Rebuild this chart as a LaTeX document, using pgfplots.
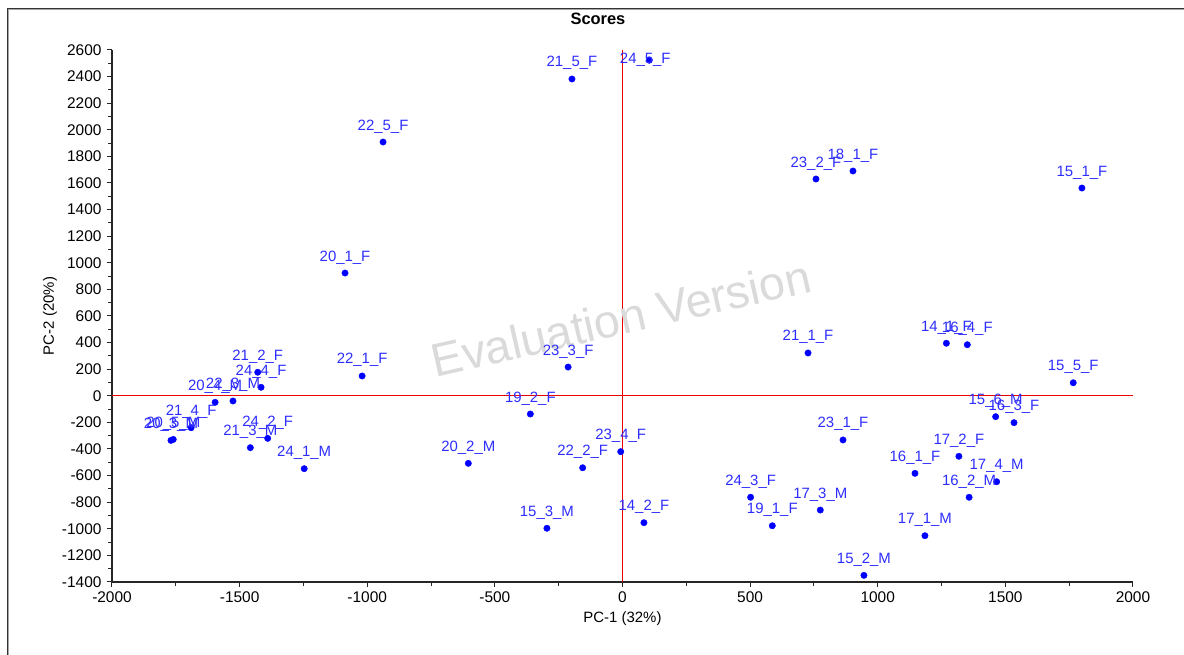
\documentclass[border=0pt]{standalone}
\usepackage{fontspec}
\setmainfont{Liberation Sans}
\usepackage{pgfplots}
\usepackage{pgfplotstable}
\pgfplotsset{compat=1.18}

\definecolor{ptblue}{RGB}{0,0,255}
\definecolor{lblblue}{RGB}{45,45,255}
\definecolor{wmgray}{RGB}{218,218,218}
\definecolor{refred}{RGB}{235,0,0}

% PCA scores: PC-1, PC-2 and sample label
\pgfplotstableread{
x y label
-198 2382 21\_5\_F
-938 1908 22\_5\_F
758 1630 23\_2\_F
903 1690 18\_1\_F
1800 1562 15\_1\_F
-1087 923 20\_1\_F
727 322 21\_1\_F
1269 395 14\_1\_F
1351 384 16\_4\_F
1766 98 15\_5\_F
-1020 149 22\_1\_F
-213 216 23\_3\_F
-1429 177 21\_2\_F
-1416 64 24\_4\_F
-1596 -49 20\_4\_M
-1526 -39 22\_3\_M
-361 -137 19\_2\_F
1462 -157 15\_6\_M
1534 -202 16\_3\_F
-1690 -240 21\_4\_F
-1769 -335 20\_3\_M
-1760 -328 20\_5\_M
-1390 -320 24\_2\_F
864 -332 23\_1\_F
-1458 -390 21\_3\_M
-7 -420 23\_4\_F
1318 -455 17\_2\_F
-604 -508 20\_2\_M
-156 -541 22\_2\_F
-1247 -548 24\_1\_M
1146 -583 16\_1\_F
1466 -646 17\_4\_M
502 -763 24\_3\_F
1358 -763 16\_2\_M
775 -859 17\_3\_M
84 -954 14\_2\_F
587 -977 19\_1\_F
-296 -996 15\_3\_M
1185 -1052 17\_1\_M
946 -1350 15\_2\_M
}\scores

\pgfplotstableread{
x y label
105 2523 24\_5\_F
}\scorestop

\begin{document}
\begin{tikzpicture}[x=1bp,y=1bp]
\useasboundingbox (-112,-73) rectangle (1072,582);
% panel frame
\draw[black!35, line width=1bp] (-103,-73) -- (-103,572) -- (1072,572);
\draw[black!80, line width=1.5bp] (-104.5,-73) -- (-104.5,573.5) -- (1072,573.5);
\begin{axis}[
  scale only axis,
  width=1021bp, height=532bp,
  xmin=-2000, xmax=2000, ymin=-1400, ymax=2600,
  clip=false,
  axis x line*=bottom, axis y line*=left,
  axis line style={-, line width=2.4bp, black!85},
  xtick distance=500, ytick distance=200,
  minor x tick num=1, minor y tick num=1,
  tick align=outside,
  major tick length=5bp, minor tick length=4bp,
  every tick/.style={black!85, line width=1bp},
  ticklabel style={font=\fontsize{15.5}{16}\selectfont},
  /pgf/number format/assume math mode=true,
  /pgf/number format/1000 sep={},
  xticklabel style={yshift=-1bp},
  yticklabel style={xshift=-2bp},
  xlabel={PC-1 (32\%)},
  ylabel={PC-2 (20\%)},
  xlabel style={at={(axis description cs:0.5,-0.0695)}, anchor=center, font=\fontsize{15}{16}\selectfont},
  ylabel style={at={(axis description cs:-0.0607,0.5)}, anchor=center, font=\fontsize{15}{16}\selectfont},
  title={Scores},
  title style={at={(axis description cs:0.476,1.047)}, anchor=center, font=\bfseries\fontsize{16.5}{17}\selectfont},
]
% reference lines through the origin
\addplot[refred, line width=1.3bp] coordinates {(0,-1400) (0,2600)};
\addplot[refred, line width=1.3bp] coordinates {(-2000,0) (2000,0)};

\node[rotate=12.8, text=wmgray, font=\fontsize{47}{47}\selectfont] at (axis cs:-6,585) {Evaluation Version};

\addplot[only marks, mark=*, mark size=3.2bp, ptblue,
  point meta=explicit symbolic, nodes near coords,
  nodes near coords style={anchor=base, yshift=12bp, text=lblblue, font=\fontsize{15}{15}\selectfont}]
  table[x=x, y=y, meta=label] {\scores};

\addplot[only marks, mark=*, mark size=3.2bp, ptblue,
  point meta=explicit symbolic, nodes near coords,
  nodes near coords style={anchor=center, xshift=-4bp, yshift=0bp, text=lblblue, font=\fontsize{15}{15}\selectfont}]
  table[x=x, y=y, meta=label] {\scorestop};
\end{axis}
\end{tikzpicture}
\end{document}
